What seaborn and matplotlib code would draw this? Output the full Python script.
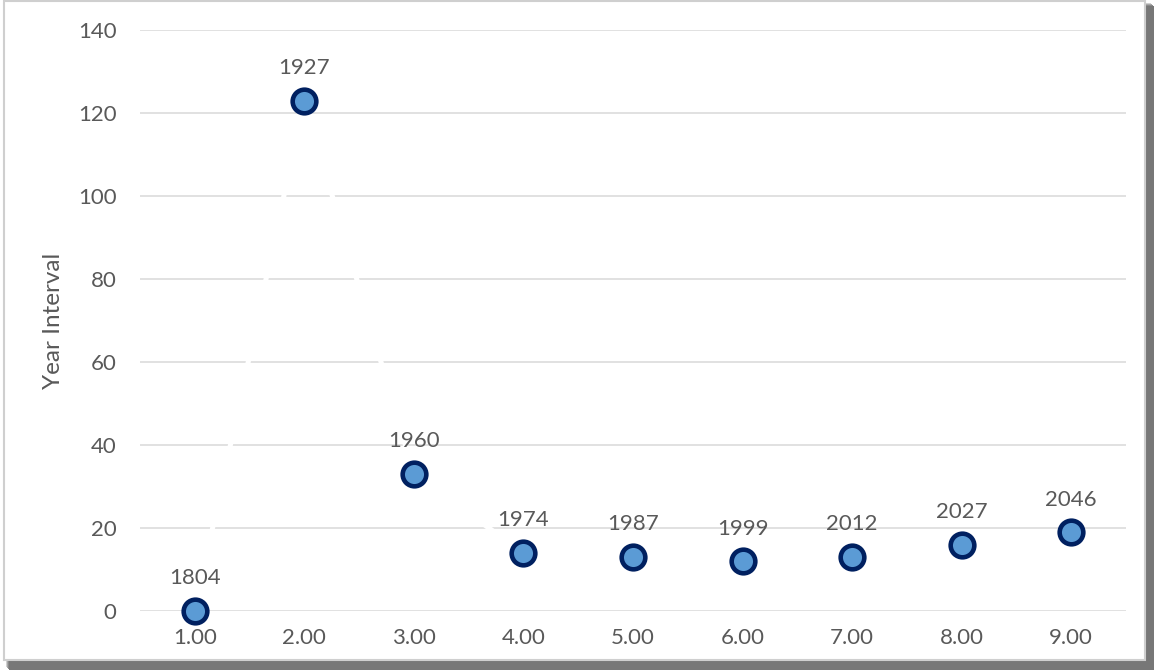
import matplotlib
matplotlib.use("Agg")
import matplotlib.pyplot as plt
from matplotlib.patches import Rectangle
from matplotlib.ticker import FormatStrFormatter, MultipleLocator
import seaborn as sns
import pandas as pd

# Billion milestones of world population and the years between them
milestone = [1, 2, 3, 4, 5, 6, 7, 8, 9]
interval = [0, 123, 33, 14, 13, 12, 13, 16, 19]
year_reached = ["1804", "1927", "1960", "1974", "1987", "1999", "2012", "2027", "2046"]

df = pd.DataFrame({"milestone": milestone, "interval": interval, "year": year_reached})

sns.set_theme(style="white")
plt.rcParams["font.family"] = ["Lato", "DejaVu Sans"]

TEXT = "#595959"
GRID = "#d9d9d9"
FILL = "#5b9bd5"
EDGE = "#002060"
FS = 16

W, H = 1155, 671
fig = plt.figure(figsize=(W / 100, H / 100), dpi=100)
fig.patch.set_facecolor("white")

# Framed chart area with a soft drop shadow on the right and bottom
def px_rect(x0, y0, x1, y1, **kw):
    return Rectangle((x0 / W, 1 - y1 / H), (x1 - x0) / W, (y1 - y0) / H,
                     transform=fig.transFigure, **kw)

for i, c in enumerate(["#d0d0d0", "#a8a8a8", "#8a8a8a", "#777777"]):
    fig.patches.append(px_rect(6 + i, 3 + i, 1154 - 3 + i, 670 - 3 + i,
                               facecolor=c, edgecolor="none", zorder=0))
fig.patches.append(px_rect(4, 1, 1145, 660, facecolor="white",
                           edgecolor="#cfcfcf", linewidth=1.5, zorder=1))

ax = fig.add_axes([140 / W, 1 - 611 / H, (1126 - 140) / W, (611 - 30) / H])
ax.set_facecolor("none")
ax.set_zorder(2)

# White connector drawn over the gridlines, then the markers on top
sns.lineplot(data=df, x="milestone", y="interval", ax=ax, color="white",
             linewidth=3.6, zorder=2, legend=False)
sns.scatterplot(data=df, x="milestone", y="interval", ax=ax, s=290,
                color=FILL, edgecolor=EDGE, linewidth=3.3, zorder=3,
                legend=False, clip_on=False)

for _, r in df.iterrows():
    ax.annotate(r["year"], (r["milestone"], r["interval"]), xytext=(0, 23.5),
                textcoords="offset points", ha="center", va="center",
                fontsize=FS, color=TEXT, zorder=4)

ax.set_xlim(0.5, 9.5)
ax.set_ylim(0, 140)
ax.xaxis.set_major_locator(MultipleLocator(1))
ax.xaxis.set_major_formatter(FormatStrFormatter("%.2f"))
ax.yaxis.set_major_locator(MultipleLocator(20))
ax.yaxis.grid(True, color=GRID, linewidth=1.1, zorder=1)
ax.set_axisbelow(True)
for s in ax.spines.values():
    s.set_visible(False)
ax.tick_params(axis="x", length=0, pad=12, labelsize=FS, labelcolor=TEXT)
ax.tick_params(axis="y", length=0, pad=17, labelsize=FS, labelcolor=TEXT)

ax.set_xlabel("")
ax.set_ylabel("Year Interval", fontsize=17.5, color=TEXT)
ax.yaxis.set_label_coords((64 - 140) / (1126 - 140), 0.5)

fig.savefig("out.png", dpi=100, facecolor="white")
